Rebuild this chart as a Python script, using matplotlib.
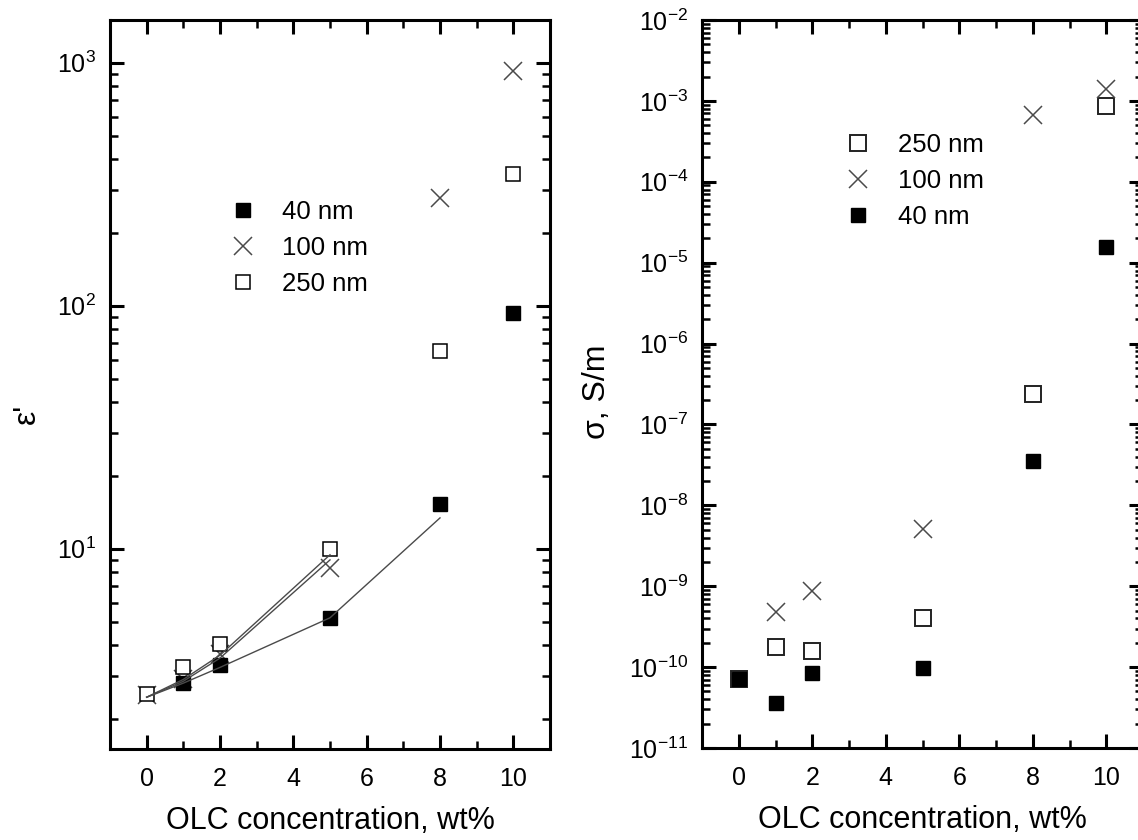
import numpy as np
import matplotlib
matplotlib.use("Agg")
import matplotlib.pyplot as plt
from matplotlib.ticker import LogLocator, MultipleLocator, NullFormatter

plt.rcParams["font.family"] = ["Liberation Sans", "DejaVu Sans"]
plt.rcParams["mathtext.fontset"] = "custom"
plt.rcParams["mathtext.rm"] = "Liberation Sans"
plt.rcParams["mathtext.it"] = "Liberation Sans:italic"
plt.rcParams["mathtext.bf"] = "Liberation Sans:bold"

# dielectric permittivity vs OLC content (left panel)
eps_x_40 = [1, 2, 5, 8, 10]
eps_40 = [2.81, 3.34, 5.2, 15.3, 93.6]
eps_x_100 = [0, 1, 2, 5, 8, 10]
eps_100 = [2.5, 2.9, 3.7, 8.35, 278, 927]
eps_x_250 = [0, 1, 2, 5, 8, 10]
eps_250 = [2.53, 3.27, 4.06, 10.0, 65.3, 349]

# fitted curves drawn through the low-concentration points
fit_x_40 = [0, 1, 2, 5, 8]
fit_40 = [2.45, 2.8, 3.25, 5.2, 13.4]
fit_x_100 = [0, 1, 2, 5]
fit_100 = [2.45, 2.85, 3.55, 9.0]
fit_x_250 = [0, 1, 2, 5]
fit_250 = [2.45, 2.9, 3.65, 9.45]

# conductivity vs OLC content (right panel)
sig_x_250 = [0, 1, 2, 5, 8, 10]
sig_250 = [7.1e-11, 1.78e-10, 1.58e-10, 4.06e-10, 2.38e-7, 8.6e-4]
sig_x_100 = [1, 2, 5, 8, 10]
sig_100 = [4.8e-10, 8.75e-10, 5.1e-9, 6.6e-4, 1.4e-3]
sig_x_40 = [0, 1, 2, 5, 8, 10]
sig_40 = [7.1e-11, 3.6e-11, 8.5e-11, 9.8e-11, 3.54e-8, 1.56e-5]

XLABEL = "OLC concentration, wt%"
GRAY = "#4a4a4a"


def style_axes(ax):
    ax.set_yscale("log")
    ax.set_xlim(-1, 11)
    ax.xaxis.set_major_locator(MultipleLocator(2))
    ax.xaxis.set_minor_locator(MultipleLocator(1))
    ax.yaxis.set_major_locator(LogLocator(base=10, numticks=30))
    ax.yaxis.set_minor_locator(LogLocator(base=10, subs=np.arange(2, 10), numticks=30))
    ax.yaxis.set_minor_formatter(NullFormatter())
    for s in ax.spines.values():
        s.set_linewidth(2.2)
    ax.tick_params(which="both", direction="in", top=True, right=True)
    ax.tick_params(which="major", length=10, width=2.2)
    ax.tick_params(which="minor", length=5.5, width=1.8)
    ax.tick_params(axis="x", which="major", labelsize=18, pad=13)
    ax.tick_params(axis="y", which="major", labelsize=18, pad=10)
    ax.set_xlabel(XLABEL, fontsize=22, labelpad=11)


fig = plt.figure(figsize=(11.38, 8.40), dpi=100)
ax1 = fig.add_axes([110 / 1138, 91 / 840, 440 / 1138, 729 / 840])
ax2 = fig.add_axes([702 / 1138, 92 / 840, 441 / 1138, 728 / 840])

# left panel
style_axes(ax1)
ax1.set_ylim(1.5, 1500)
ax1.plot(eps_x_100, eps_100, ls="none", marker="x", ms=12.5, mew=1.1, color=GRAY, label="100 nm", zorder=3)
ax1.plot(eps_x_40, eps_40, ls="none", marker="s", ms=10, color="black", label="40 nm", zorder=4)
ax1.plot(eps_x_250, eps_250, ls="none", marker="s", ms=10.5, mfc="white", mec="black", mew=1.1,
         label="250 nm", zorder=4)
for fx, fy in [(fit_x_40, fit_40), (fit_x_100, fit_100), (fit_x_250, fit_250)]:
    ax1.plot(fx, fy, color=GRAY, lw=1.0, zorder=5)
ax1.set_ylabel("ε'", fontsize=23)
ax1.yaxis.set_label_coords(-0.155, 0.46)
h, l = ax1.get_legend_handles_labels()
order = [1, 0, 2]
ax1.legend([h[i] for i in order], [l[i] for i in order], loc="upper left",
           bbox_to_anchor=(0.2545, 0.753), frameon=False, fontsize=18.5, borderpad=0,
           handlelength=1.6, handletextpad=0.75, labelspacing=0.47, borderaxespad=0)

# right panel
style_axes(ax2)
ax2.set_ylim(1e-11, 1e-2)
ax2.plot(sig_x_250, sig_250, ls="none", marker="s", ms=12, mfc="none", mec="#222222", mew=1.4,
         label="250 nm", zorder=3)
ax2.plot(sig_x_100, sig_100, ls="none", marker="x", ms=12.5, mew=1.1, color=GRAY, label="100 nm", zorder=3)
ax2.plot(sig_x_40, sig_40, ls="none", marker="s", ms=9.5, color="black", label="40 nm", zorder=4)
ax2.set_ylabel("σ, S/m", fontsize=23)
ax2.yaxis.set_label_coords(-0.205, 0.49)
ax2.legend(loc="upper left", bbox_to_anchor=(0.308, 0.845), frameon=False, fontsize=18.5, borderpad=0,
           handlelength=1.6, handletextpad=0.75, labelspacing=0.47, borderaxespad=0)

fig.savefig("out.png", dpi=100)
